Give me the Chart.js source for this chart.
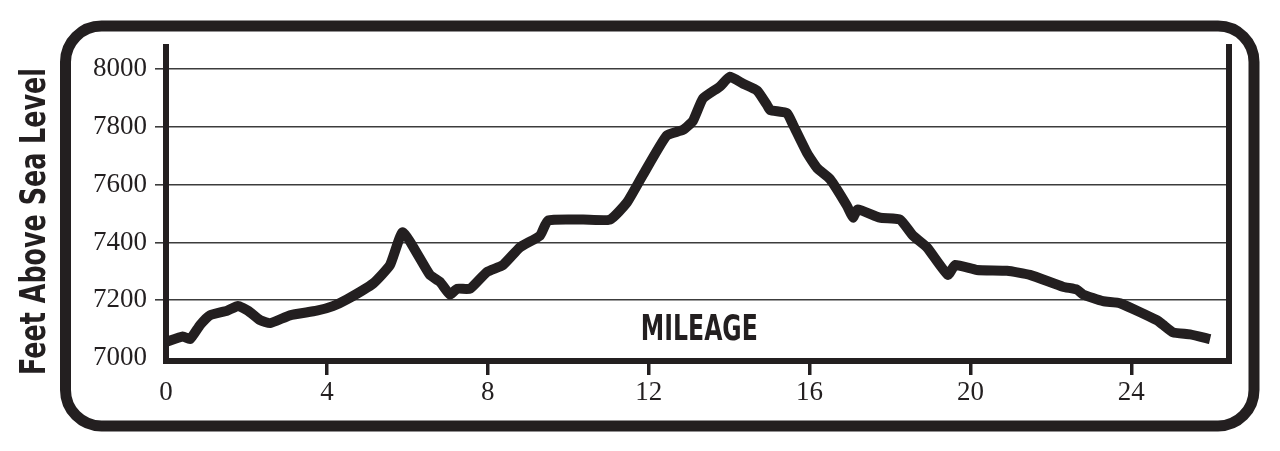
<!DOCTYPE html>
<html>
<head>
<meta charset="utf-8">
<script src="https://cdn.jsdelivr.net/npm/chart.js@4/dist/chart.umd.min.js"></script>
<style>
  html, body { margin: 0; padding: 0; background: #ffffff; }
  #wrap { width: 1280px; height: 451px; }
</style>
</head>
<body>
<div id="wrap"><canvas id="c" width="1280" height="451"></canvas></div>
<script>
// ---- data ----
const miles = [0, 0.42, 0.6, 0.85, 1.09, 1.52, 1.79, 2.04, 2.34, 2.59, 3.08, 3.75, 4.15, 4.5, 5.15, 5.57, 5.89,
  6.56, 6.81, 7.06, 7.24, 7.56, 7.98, 8.38, 8.8, 9.3, 9.5, 10.37, 11.04, 11.46, 11.86, 12.45, 12.85, 13.1, 13.35,
  13.77, 14.02, 14.35, 14.7, 14.95, 15.02, 15.44, 15.59, 15.94, 16.19, 16.51, 16.93, 17.08, 17.2, 17.75, 18.25,
  18.57, 18.92, 19.44, 19.62, 20.16, 20.91, 21.48, 22.3, 22.65, 22.8, 23.3, 23.72, 24.64, 24.79, 25.04, 25.46, 25.96];
const elevation = [7056, 7075, 7066, 7115, 7148, 7164, 7180, 7164, 7131, 7121, 7148, 7164, 7180, 7203, 7258, 7322, 7435,
  7288, 7264, 7220, 7240, 7240, 7298, 7322, 7383, 7424, 7476, 7479, 7479, 7538, 7634, 7770, 7789, 7820, 7898,
  7939, 7973, 7949, 7925, 7874, 7858, 7847, 7807, 7709, 7657, 7619, 7527, 7486, 7514, 7486, 7479,
  7424, 7383, 7288, 7322, 7305, 7302, 7288, 7247, 7237, 7220, 7197, 7190, 7131, 7115, 7089, 7082, 7066];
const yTickValues = [7000, 7200, 7400, 7600, 7800, 8000];
const xTickValues = [0, 4, 8, 12, 16, 20, 24];
const yAxisTitle = 'Feet Above Sea Level';
const xAxisTitle = 'MILEAGE';
const xTitleAt = [13.26, 7097];

const INK = '#231f20';
const TITLE_FONT = '"DejaVu Sans", "Liberation Sans", Arial, sans-serif';

const framePlugin = {
  id: 'frame',
  beforeDraw(chart) {
    const ctx = chart.ctx;
    ctx.save();
    ctx.fillStyle = '#ffffff';
    ctx.fillRect(0, 0, chart.width, chart.height);
    ctx.lineWidth = 11;
    ctx.strokeStyle = INK;
    ctx.beginPath();
    ctx.roundRect(65.5, 26, 1254 - 65.5, 426 - 26, 36);
    ctx.stroke();
    ctx.restore();
  },
  afterDraw(chart) {
    const ctx = chart.ctx;
    const a = chart.chartArea;
    ctx.save();
    ctx.strokeStyle = INK;
    ctx.lineWidth = 6;
    ctx.beginPath();
    ctx.moveTo(a.right, a.top - 3);
    ctx.lineTo(a.right, a.bottom + 3);
    ctx.stroke();
    ctx.fillStyle = INK;
    ctx.font = 'bold 36px ' + TITLE_FONT;
    ctx.textAlign = 'center';
    ctx.textBaseline = 'middle';
    let w = ctx.measureText(yAxisTitle).width;
    ctx.translate(35, 221.5);
    ctx.rotate(-Math.PI / 2);
    ctx.scale(307 / w, 1);
    ctx.fillText(yAxisTitle, 0, 1);
    ctx.restore();
    ctx.save();
    ctx.fillStyle = INK;
    ctx.font = 'bold 35px ' + TITLE_FONT;
    ctx.textAlign = 'center';
    ctx.textBaseline = 'middle';
    w = ctx.measureText(xAxisTitle).width;
    const px = chart.scales.x.getPixelForValue(xTitleAt[0]);
    const py = chart.scales.y.getPixelForValue(xTitleAt[1]);
    ctx.translate(px, py);
    ctx.scale(117 / w, 1);
    ctx.fillText(xAxisTitle, 0, 1);
    ctx.restore();
  }
};

new Chart(document.getElementById('c'), {
  type: 'line',
  data: {
    datasets: [{
      data: miles.map((m, i) => ({ x: m, y: elevation[i] })),
      borderColor: INK,
      borderWidth: 10,
      pointRadius: 0,
      tension: 0.15,
      borderJoinStyle: 'round',
      borderCapStyle: 'butt',
      fill: false
    }]
  },
  options: {
    responsive: false,
    animation: false,
    devicePixelRatio: 1,
    layout: { padding: { left: 0, right: 51, top: 47, bottom: 0 } },
    plugins: { legend: { display: false }, tooltip: { enabled: false } },
    scales: {
      x: {
        type: 'linear',
        min: 0,
        max: 26.43,
        afterBuildTicks: s => { s.ticks = xTickValues.map(v => ({ value: v })); },
        afterFit: s => { s.height = 451 - 47 - 314; },
        grid: {
          drawOnChartArea: false,
          drawTicks: true,
          tickLength: 14,
          color: INK,
          lineWidth: c => (c.tick && c.tick.value === 0) ? 0 : 3.5
        },
        border: { display: true, color: INK, width: 6 },
        ticks: {
          color: INK,
          padding: 2,
          maxRotation: 0,
          callback: v => String(v),
          font: { family: '"Liberation Serif", "Times New Roman", serif', size: 27 }
        }
      },
      y: {
        type: 'linear',
        min: 6990,
        max: 8076,
        afterBuildTicks: s => { s.ticks = yTickValues.map(v => ({ value: v })); },
        afterFit: s => { s.width = 166; },
        grid: {
          drawTicks: true,
          tickLength: 11,
          color: '#3c3c3c',
          lineWidth: c => (c.tick && c.tick.value === 7000) ? 0 : 1.6
        },
        border: { display: true, color: INK, width: 6 },
        ticks: {
          color: INK,
          padding: 8,
          callback: v => String(v),
          font: { family: '"Liberation Serif", "Times New Roman", serif', size: 27 }
        }
      }
    }
  },
  plugins: [framePlugin]
});
</script>
</body>
</html>
